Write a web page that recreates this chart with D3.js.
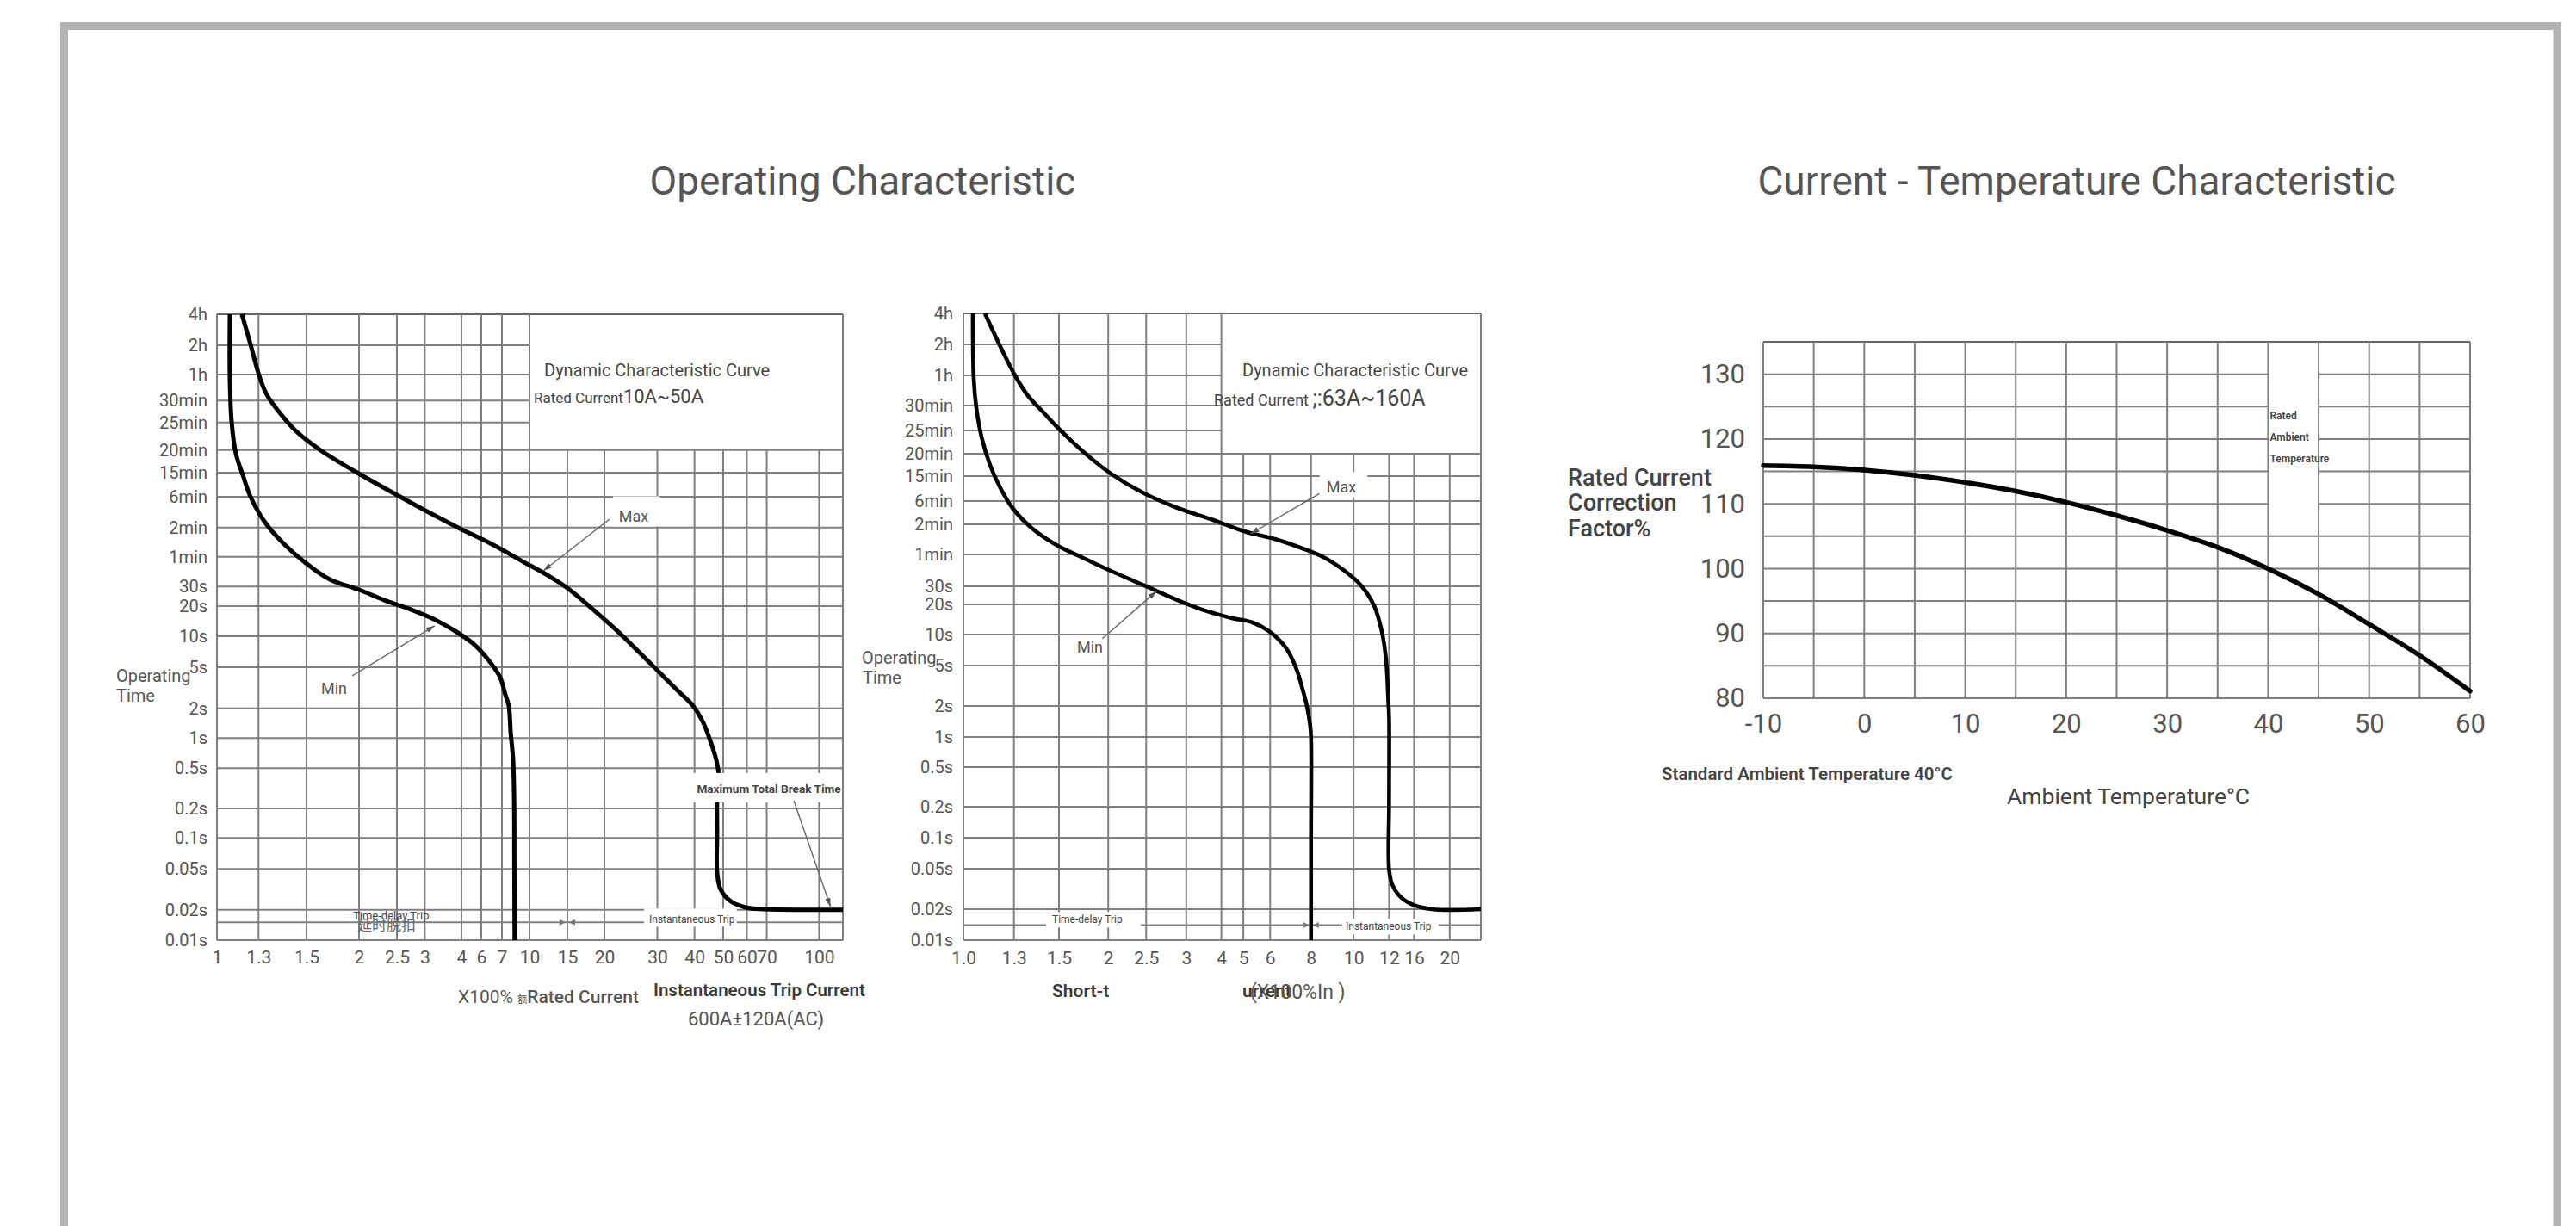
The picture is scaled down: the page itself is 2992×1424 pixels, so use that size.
<!DOCTYPE html>
<html>
<head>
<meta charset="utf-8">
<script src="https://cdn.jsdelivr.net/npm/d3@7"></script>
<style>
  html, body { margin: 0; padding: 0; background: #fff; }
  svg { display: block; }
</style>
</head>
<body>
<svg id="chart" width="2992" height="1424"></svg>
<script>
// ---------- data ----------
// operating time axis (seconds) and its printed labels
const timeTickValues = [14400, 7200, 3600, 1800, 1500, 1200, 900, 360, 120, 60, 30, 20, 10, 5, 2, 1, 0.5, 0.2, 0.1, 0.05, 0.02, 0.01];
const timeTickLabels = ["4h", "2h", "1h", "30min", "25min", "20min", "15min", "6min", "2min", "1min", "30s", "20s", "10s", "5s", "2s", "1s", "0.5s", "0.2s", "0.1s", "0.05s", "0.02s", "0.01s"];

// 10A-50A: multiples of rated current
const currentTicksA = [1, 1.3, 1.5, 2, 2.5, 3, 4, 6, 7, 10, 15, 20, 30, 40, 50, 60, 70, 100];
const currentLabelsA = ["1", "1.3", "1.5", "2", "2.5", "3", "4", "6", "7", "10", "15", "20", "30", "40", "50", "60", "70", "100"];
const currentMaxA = 120;

// 63A-160A: multiples of rated current
const currentTicksB = [1, 1.3, 1.5, 2, 2.5, 3, 4, 5, 6, 8, 10, 12, 16, 20];
const currentLabelsB = ["1.0", "1.3", "1.5", "2", "2.5", "3", "4", "5", "6", "8", "10", "12", "16", "20"];
const currentMaxB = 24;

// tripping curves: [multiple of In, seconds]
const minCurveA = [[1.085, 14400], [1.085, 3211], [1.097, 1508], [1.127, 1145], [1.18, 790], [1.236, 360], [1.326, 143], [1.407, 79.3], [1.492, 52.9], [1.704, 35.4], [2.0, 28.1], [2.316, 22.7], [2.705, 18.8], [3.158, 15.2], [3.764, 11.5], [5.12, 8.41], [6.44, 5.5], [6.91, 3.97], [7.32, 2.7], [7.65, 2.11], [7.83, 1.16], [8.09, 0.601], [8.2, 0.225], [8.22, 0.06], [8.25, 0.01]];
const maxCurveA = [[1.17, 14400], [1.236, 7340], [1.298, 3751], [1.33, 2174], [1.378, 1655], [1.451, 1406], [1.617, 1200], [1.98, 900], [2.39, 453], [2.98, 227], [3.89, 120], [6.57, 79.3], [9.15, 53.9], [12.13, 39.1], [15, 29.1], [18.2, 18.8], [21.93, 11.5], [26.0, 7.07], [29.7, 4.81], [34.6, 3.09], [39.6, 2.11], [42.9, 1.414], [45.5, 0.893], [47.4, 0.601], [48.4, 0.413], [47.7, 0.253], [47.7, 0.114], [47.7, 0.0465], [49.0, 0.0316], [53.1, 0.0241], [59.4, 0.0211], [69.3, 0.0203], [120, 0.02]];
const minCurveB = [[1.05, 14400], [1.055, 3327], [1.069, 1777], [1.098, 1416], [1.148, 1039], [1.212, 578], [1.29, 260], [1.374, 110.9], [1.488, 74.6], [1.709, 56.7], [2.03, 42.0], [2.47, 30.6], [2.885, 22.0], [3.556, 17.1], [4.45, 14.6], [5.32, 13.2], [5.95, 10.8], [6.72, 7.35], [7.22, 4.62], [7.53, 2.95], [7.77, 2.0], [7.95, 1.3], [8.0, 1.0], [8.0, 0.1], [8.0, 0.01]];
const maxCurveB = [[1.118, 14400], [1.172, 9245], [1.239, 5609], [1.306, 3530], [1.36, 2238], [1.431, 1701], [1.514, 1500], [1.752, 1200], [2.03, 930], [2.47, 478], [2.885, 260], [3.67, 153], [5.02, 102.4], [6.32, 84.0], [7.53, 68.9], [8.53, 56.7], [9.54, 42.0], [10.39, 30.6], [11.1, 19.6], [11.56, 10.8], [11.82, 5.61], [11.95, 2.29], [12.0, 1.56], [12.0, 0.217], [12.0, 0.049], [12.42, 0.0352], [13.45, 0.0273], [15.44, 0.0225], [17.87, 0.02], [24, 0.02]];

// current vs ambient temperature
const ambientTemp = [-10, -5, 0, 5, 10, 15, 20, 25, 30, 35, 40, 45, 50, 55, 60];
const correctionFactor = [115.9, 115.7, 115.2, 114.4, 113.3, 111.95, 110.25, 108.2, 105.9, 103.3, 100, 96.05, 91.4, 86.6, 81.1];
const tempTicks = [-10, 0, 10, 20, 30, 40, 50, 60];
const factorTicks = [80, 90, 100, 110, 120, 130];

// ---------- layout ----------
const FONT = "Roboto, 'Noto Sans', 'DejaVu Sans', sans-serif";
const CJK = "'Noto Sans CJK SC', 'Noto Sans CJK TC', sans-serif";
const INK = "#555", DARK = "#3a3a3a", GRID = "#7f7f7f", FRAME = "#666";

// the printed log-paper grid is unevenly spaced; these are its divisions as fractions of the plot
const paperA = {
  box: { x: 252, y: 365, w: 727, h: 727 },
  xFrac: [0, 0.0664, 0.1431, 0.2270, 0.2875, 0.3320, 0.3906, 0.4223, 0.4553, 0.4993, 0.5598, 0.6190, 0.7036, 0.7629, 0.8088, 0.8466, 0.8783, 0.9620, 1],
  yFrac: [0, 0.0495, 0.0963, 0.1380, 0.1729, 0.2169, 0.2531, 0.2916, 0.3407, 0.3875, 0.4351, 0.4663, 0.5144, 0.5640, 0.6296, 0.6772, 0.7253, 0.7896, 0.8367, 0.8863, 0.9515, 1]
};
const paperB = {
  box: { x: 1119, y: 364, w: 601, h: 728 },
  xFrac: [0, 0.0977, 0.1847, 0.2799, 0.3532, 0.4306, 0.4985, 0.5410, 0.5928, 0.6718, 0.7540, 0.8226, 0.8710, 0.9398, 1],
  yFrac: [0, 0.0495, 0.0989, 0.1470, 0.1868, 0.2239, 0.2596, 0.2995, 0.3365, 0.3846, 0.4354, 0.4643, 0.5124, 0.5618, 0.6264, 0.6758, 0.7239, 0.7871, 0.8365, 0.8860, 0.9505, 1]
};

const svg = d3.select("#chart");

const defs = svg.append("defs");
defs.append("marker")
  .attr("id", "arrow").attr("viewBox", "0 0 10 10")
  .attr("refX", 10).attr("refY", 5)
  .attr("markerWidth", 10).attr("markerHeight", 10)
  .attr("markerUnits", "userSpaceOnUse").attr("orient", "auto")
  .append("path").attr("d", "M0,1.8L10,5L0,8.2Z").attr("fill", "#555");

// page frame
svg.append("rect")
  .attr("x", 74.5).attr("y", 30.5).attr("width", 2895.5).attr("height", 1460)
  .attr("fill", "none").attr("stroke", "#b3b3b3").attr("stroke-width", 9);

// section titles
[["Operating Characteristic", 1002], ["Current - Temperature Characteristic", 2412]].forEach(([t, cx]) => {
  svg.append("text").attr("x", cx).attr("y", 226)
    .attr("text-anchor", "middle").attr("font-family", FONT)
    .attr("font-size", 46).attr("fill", INK).text(t);
});

function addText(g, spec, ox, oy) {
  const maxSize = d3.max(spec.parts, p => p[1]);
  const t = g.append("text")
    .attr("x", ox + spec.dx).attr("y", oy + spec.dy + 0.36 * maxSize)
    .attr("text-anchor", spec.anchor || "start")
    .attr("fill", spec.fill || INK)
    .attr("font-family", spec.font || FONT)
    .attr("font-weight", spec.weight || 400);
  spec.parts.forEach(p => {
    const s = t.append("tspan").attr("font-size", p[1]).text(p[0]);
    if (p[2]) s.attr("font-weight", p[2]);
    if (p[3]) s.attr("font-family", p[3]);
  });
  return t;
}

function drawOperating(c) {
  const b = c.paper.box, x0 = b.x, x1 = b.x + b.w, y0 = b.y, y1 = b.y + b.h;
  const x = d3.scaleLog().domain(c.currentTicks.concat([c.currentMax])).range(c.paper.xFrac.map(f => x0 + f * b.w));
  const y = d3.scaleLog().domain(timeTickValues).range(c.paper.yFrac.map(f => y0 + f * b.h));

  const g = svg.append("g");
  const gGrid = g.append("g"), gMaskUnder = g.append("g"), gCurves = g.append("g"),
        gMaskOver = g.append("g"), gText = g.append("g"), gLead = g.append("g");

  // the legend panel blanks the grid above its row and right of its column
  const inLegendRow = t => t > c.legend.time && t < timeTickValues[0];
  const inLegendCol = v => v > c.legend.current && v < c.currentMax;

  gGrid.append("g").selectAll("line").data(timeTickValues.concat([c.extraTime])).join("line")
    .attr("x1", x0).attr("x2", d => inLegendRow(d) ? x(c.legend.current) : x1)
    .attr("y1", d => y(d)).attr("y2", d => y(d))
    .attr("stroke", d => d === timeTickValues[0] ? FRAME : GRID)
    .attr("stroke-width", 2);
  gGrid.append("g").selectAll("line").data(c.currentTicks.concat([c.currentMax])).join("line")
    .attr("x1", d => x(d)).attr("x2", d => x(d))
    .attr("y1", d => inLegendCol(d) ? y(c.legend.time) : y0).attr("y2", y1)
    .attr("stroke", GRID).attr("stroke-width", 2);

  // small arrow pair on the instantaneous line
  const ax = x(c.arrowMark[0]), ayy = y(c.arrowMark[1]);
  gGrid.append("path")
    .attr("d", `M${ax - 9},${ayy - 3.5}L${ax - 2},${ayy}L${ax - 9},${ayy + 3.5}Z M${ax + 9},${ayy - 3.5}L${ax + 2},${ayy}L${ax + 9},${ayy + 3.5}Z`)
    .attr("fill", "#777");

  // tick labels
  const axL = g.append("g").attr("transform", `translate(${x0},0)`)
    .call(d3.axisLeft(y).tickValues(timeTickValues).tickFormat((d, i) => timeTickLabels[i]).tickSize(0).tickPadding(c.yPad));
  axL.select(".domain").remove();
  axL.selectAll("text").attr("font-family", FONT).attr("font-size", 20).attr("fill", INK);

  const axB = g.append("g").attr("transform", `translate(0,${y1})`)
    .call(d3.axisBottom(x).tickValues(c.currentTicks).tickFormat((d, i) => c.currentLabels[i]).tickSize(0).tickPadding(c.xPad));
  axB.select(".domain").remove();
  axB.selectAll("text").attr("font-family", FONT).attr("font-size", 21).attr("fill", INK);

  // curves
  const line = d3.line().x(d => x(d[0])).y(d => y(d[1])).curve(d3.curveCatmullRom.alpha(0.5));
  [c.minCurve, c.maxCurve].forEach(cv => {
    gCurves.append("path").datum(cv).attr("d", line)
      .attr("fill", "none").attr("stroke", "#000").attr("stroke-width", c.curveWidth)
      .attr("stroke-linejoin", "round").attr("stroke-linecap", "butt");
  });

  // annotations
  c.notes.forEach(n => {
    const t = addText(gText, n, x0, y0);
    if (n.mask) {
      const bb = t.node().getBBox(), p = n.mask;
      (n.layer === "over" ? gMaskOver : gMaskUnder).append("rect")
        .attr("x", bb.x - p[3]).attr("y", bb.y - p[0])
        .attr("width", bb.width + p[1] + p[3]).attr("height", bb.height + p[0] + p[2])
        .attr("fill", "#fff");
    }
  });

  c.leaders.forEach(l => {
    gLead.append("line")
      .attr("x1", x(l[0][0])).attr("y1", y(l[0][1]))
      .attr("x2", x(l[1][0])).attr("y2", y(l[1][1]))
      .attr("stroke", "#666").attr("stroke-width", 1.4)
      .attr("marker-end", "url(#arrow)");
  });
}

drawOperating({
  paper: paperA,
  currentTicks: currentTicksA, currentLabels: currentLabelsA, currentMax: currentMaxA,
  legend: { current: 10, time: 1200 },
  extraTime: 0.015,
  arrowMark: [15, 0.015],
  minCurve: minCurveA, maxCurve: maxCurveA,
  curveWidth: 5,
  yPad: 11, xPad: 12,
  notes: [
    { parts: [["Dynamic Characteristic Curve", 20]], dx: 380, dy: 65, fill: "#444" },
    { parts: [["Rated Current", 17], ["10A~50A", 22]], dx: 368, dy: 95, fill: "#444" },
    { parts: [["Max", 18]], dx: 484, dy: 235, anchor: "middle", mask: [13, 13, 1, 7], layer: "under" },
    { parts: [["Min", 18]], dx: 136, dy: 435, anchor: "middle" },
    { parts: [["Operating", 20]], dx: -117, dy: 420 },
    { parts: [["Time", 20]], dx: -117, dy: 443 },
    { parts: [["Maximum Total Break Time", 13.6]], weight: 700, fill: "#444", dx: 641, dy: 551, anchor: "middle", mask: [10, 0, 8, 5], layer: "over" },
    { parts: [["Instantaneous Trip", 12]], dx: 502, dy: 703, fill: "#444", mask: [6, 2, 1, 6], layer: "under" },
    { parts: [["Time-delay Trip", 13]], dx: 158, dy: 698, fill: "#444" },
    { parts: [["延时脱扣", 17]], dx: 163, dy: 710, font: CJK, fill: "#666" },
    { parts: [["X100% ", 21], ["额", 11, null, CJK], ["Rated Current", 21, 500]], dx: 280, dy: 792 },
    { parts: [["Instantaneous Trip Current", 20.5, 600]], dx: 507, dy: 785, fill: DARK },
    { parts: [["600A±120A(AC)", 22]], dx: 547, dy: 818 }
  ],
  leaders: [
    [[20.8, 161.7], [11.6, 43.3]],
    [[1.926, 4.13], [3.24, 12.7]],
    [[84.2, 0.239], [109.1, 0.0215]]
  ]
});

drawOperating({
  paper: paperB,
  currentTicks: currentTicksB, currentLabels: currentLabelsB, currentMax: currentMaxB,
  legend: { current: 4, time: 1200 },
  extraTime: 0.014,
  arrowMark: [8, 0.014],
  minCurve: minCurveB, maxCurve: maxCurveB,
  curveWidth: 4.6,
  yPad: 12, xPad: 13,
  notes: [
    { parts: [["Dynamic Characteristic Curve", 20]], dx: 324, dy: 66, fill: "#444" },
    { parts: [["Rated Current ", 18], [";:63A~160A", 25]], dx: 291, dy: 98, fill: "#444" },
    { parts: [["Max", 18]], dx: 439, dy: 202, anchor: "middle", mask: [7, 13, 1, 8], layer: "under" },
    { parts: [["Min", 18]], dx: 147, dy: 388, anchor: "middle" },
    { parts: [["Operating", 20]], dx: -118, dy: 400 },
    { parts: [["Time", 20]], dx: -117, dy: 423 },
    { parts: [["Time-delay Trip", 12]], dx: 103, dy: 704, fill: "#444", mask: [2, 21, 2, 7], layer: "under" },
    { parts: [["Instantaneous Trip", 12]], dx: 444, dy: 712, fill: "#444", mask: [2, 8, 2, 4], layer: "under" },
    { parts: [["Short-t", 21, 600]], dx: 103, dy: 786, fill: DARK },
    { parts: [["urrent", 21, 600]], dx: 324, dy: 786, fill: DARK },
    { parts: [["(X100%In )", 23]], dx: 333, dy: 788 }
  ],
  leaders: [
    [[8.36, 474], [5.25, 96.5]],
    [[1.933, 9.14], [2.62, 26.9]]
  ]
});

// ---------- current - temperature ----------
(function drawTemperature() {
  const b = { x: 2048, y: 397, w: 821, h: 414 };
  const x = d3.scaleLinear().domain([-10, 60]).range([b.x, b.x + b.w]);
  const y = d3.scaleLinear().domain([80, 135]).range([b.y + b.h, b.y]);
  const g = svg.append("g");

  g.append("g").selectAll("line").data(d3.range(80, 136, 5)).join("line")
    .attr("x1", b.x).attr("x2", b.x + b.w)
    .attr("y1", d => y(d)).attr("y2", d => y(d))
    .attr("stroke", d => d === 135 ? FRAME : GRID).attr("stroke-width", 2);

  // blank column for the rated ambient temperature note
  g.append("rect")
    .attr("x", x(40) + 1).attr("y", y(135) + 1.5)
    .attr("width", x(45) - x(40) - 2).attr("height", y(109.2) - y(135) - 1.5)
    .attr("fill", "#fff");

  g.append("g").selectAll("line").data(d3.range(-10, 61, 5)).join("line")
    .attr("x1", d => x(d)).attr("x2", d => x(d))
    .attr("y1", b.y).attr("y2", b.y + b.h)
    .attr("stroke", GRID).attr("stroke-width", 2);

  const axL = g.append("g").attr("transform", `translate(${b.x},0)`)
    .call(d3.axisLeft(y).tickValues(factorTicks).tickFormat(d => String(d)).tickSize(0).tickPadding(21));
  axL.select(".domain").remove();
  axL.selectAll("text").attr("font-family", FONT).attr("font-size", 31).attr("fill", INK);

  const axB = g.append("g").attr("transform", `translate(0,${b.y + b.h})`)
    .call(d3.axisBottom(x).tickValues(tempTicks).tickFormat(d => String(d)).tickSize(0).tickPadding(18));
  axB.select(".domain").remove();
  axB.selectAll("text").attr("font-family", FONT).attr("font-size", 31).attr("fill", INK);

  const line = d3.line().x((d, i) => x(ambientTemp[i])).y(d => y(d)).curve(d3.curveMonotoneX);
  g.append("path").datum(correctionFactor).attr("d", line)
    .attr("fill", "none").attr("stroke", "#000").attr("stroke-width", 5.5)
    .attr("stroke-linecap", "round");

  [["Rated", 123.6], ["Ambient", 120.2], ["Temperature", 116.9]].forEach(([t, v]) => {
    g.append("text").attr("x", x(40) + 2).attr("y", y(v) + 4)
      .attr("font-family", FONT).attr("font-size", 12).attr("font-weight", 600)
      .attr("fill", "#444").text(t);
  });

  [["Rated Current", 157], ["Correction", 186], ["Factor%", 216]].forEach(([t, dy]) => {
    g.append("text").attr("x", b.x - 227).attr("y", b.y + dy + 10)
      .attr("font-family", FONT).attr("font-size", 27).attr("font-weight", 500)
      .attr("fill", "#444").text(t);
  });

  g.append("text").attr("x", b.x - 118).attr("y", b.y + 502 + 7)
    .attr("font-family", FONT).attr("font-size", 20.5).attr("font-weight", 600)
    .attr("fill", "#444").text("Standard Ambient Temperature 40°C");

  g.append("text").attr("x", b.x + 283).attr("y", b.y + 527 + 10)
    .attr("font-family", FONT).attr("font-size", 26.5)
    .attr("fill", "#444").text("Ambient Temperature°C");
})();
</script>
</body>
</html>
